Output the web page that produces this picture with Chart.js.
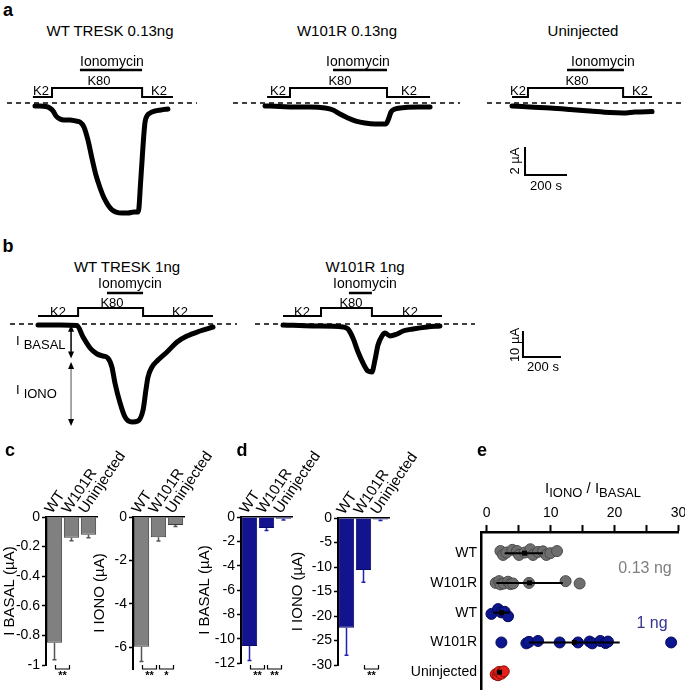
<!DOCTYPE html>
<html><head><meta charset="utf-8">
<script src="https://cdn.jsdelivr.net/npm/chart.js@4.4.1/dist/chart.umd.min.js"></script>
<style>
html,body{margin:0;padding:0;background:#fff}
body{width:685px;height:696px;position:relative;overflow:hidden;font-family:"Liberation Sans",Arial,Helvetica,sans-serif;color:#000}
canvas{position:absolute}
.t{position:absolute;white-space:nowrap;transform:translate(-50%,-50%);line-height:1}
</style></head><body>
<script>
// ================= DATA =================
// Panel a traces: time (s) and current (µA); protocol = [K2 start, K80 on, K80 off, K2 end, ionomycin on, ionomycin off]
const a1Time=[0,24,52,71,86,100,119,138,167,195,214,233,252,271,290,310,329,348,367,386,414,443,471,490,495,502,510,517,524,533,548,571,600,633];
const a1Curr=[-0.21,-0.21,-0.25,-0.36,-0.57,-0.93,-1.14,-1.21,-1.21,-1.29,-1.36,-1.71,-2.64,-3.93,-5.14,-6.07,-6.79,-7.29,-7.64,-7.79,-7.86,-7.86,-7.79,-7.79,-7.5,-5.86,-4.07,-2.5,-1.36,-0.93,-0.71,-0.57,-0.5,-0.43];
const a1Prot=[-10,81,510,657,214,510];
const a2Time=[0,71,143,214,286,324,357,395,433,476,524,576,590,600,619,667,729,786];
const a2Curr=[-0.21,-0.25,-0.29,-0.29,-0.36,-0.5,-0.79,-1.07,-1.29,-1.43,-1.5,-1.5,-1.07,-0.64,-0.43,-0.32,-0.29,-0.29];
const a2Prot=[10,119,581,786,324,581];
const a3Time=[0,86,181,276,371,467,529,586,667];
const a3Curr=[-0.21,-0.29,-0.36,-0.46,-0.57,-0.68,-0.71,-0.64,-0.61];
const a3Prot=[0,76,529,667,262,533];
// Panel b traces
const b1Time=[0,116,205,237,274,311,342,368,389,405,432,458,495,526,553,568,579,600,632,679,732,784,853,921];
const b1Curr=[-0.38,-0.38,-0.58,-5.0,-9.23,-11.54,-12.31,-13.08,-16.54,-22.69,-30.38,-35.77,-37.69,-37.31,-33.08,-25.38,-20.38,-16.54,-13.85,-10.77,-6.92,-4.62,-2.69,-1.15];
const b1Prot=[0,211,553,921,363,553];
const b1Basal=[-0.3,-13.3];
const b1Iono=[-14.6,-39.2];
const b2Time=[0,158,316,342,368,395,421,447,468,484,500,521,537,563,600,632,684,758,826];
const b2Curr=[-0.38,-0.77,-1.15,-1.92,-5.38,-10.77,-15.0,-18.08,-18.46,-13.85,-8.08,-4.62,-3.46,-4.62,-3.85,-2.69,-1.92,-1.15,-0.77];
const b2Prot=[0,200,468,837,347,468];
// Panels c, d: mean (µA) and error
const barCats=['WT','W101R','Uninjected'];
const cBasal=[-0.85,-0.14,-0.12];   const cBasalErr=[0.115,0.02,0.02];
const cIono=[-5.98,-0.93,-0.37];    const cIonoErr=[0.67,0.18,0.07];
const dBasal=[-10.6,-0.9,-0.15];    const dBasalErr=[1.2,0.2,0.1];
const dIono=[-22.4,-10.6,-0.3];     const dIonoErr=[5.6,2.5,0.2];
const cBasalSig=[[0,1,'**']];
const cIonoSig=[[0,1,'**'],[1,2,'*']];
const dBasalSig=[[0,1,'**'],[1,2,'**']];
const dIonoSig=[[1,2,'**']];
// Panel e: I_IONO / I_BASAL ratios (value, row jitter)
const eRows=['WT','W101R','WT','W101R','Uninjected'];
const eWT013=[2.14,2.55,3.07,4.0,4.74,5.05,5.94,6.82,7.24,8.02,8.8,9.32,9.95,10.99];
const eWT013Jit=[-0.07,0.06,-0.02,-0.11,-0.07,0.06,-0.02,-0.13,0.06,-0.04,-0.06,0.06,0,-0.07];
const eMut013=[1.41,1.93,2.14,2.66,3.33,3.7,4.11,6.61,12.34,14.53];
const eMut013Jit=[0,-0.06,0.05,0.02,-0.04,0.04,0.02,0,-0.06,0.02];
const eWT1=[0.73,1.77,2.29,2.81,3.33];
const eWT1Jit=[0.04,-0.12,-0.01,-0.03,0.12];
const eMut1=[2.29,6.2,6.61,8.02,11.41,14.27,16.09,16.51,17.76,18.59,18.96,28.85];
const eMut1Jit=[0,0.03,-0.02,-0.05,0,0,-0.03,0.03,-0.05,0.02,-0.03,0];
const eUnin=[1.4,1.77,1.93,2.29,2.66];
const eUninJit=[0.07,0.1,-0.01,0.05,-0.03];
const eMean=[5.9,6.7,2.3,13.7,2.0];
const eSdLo=[2.8,1.5,1.0,6.6,1.6];
const eSdHi=[8.8,11.9,3.6,20.8,2.4];

// ================= HELPERS =================
Chart.defaults.font.family='"Liberation Sans", Arial, sans-serif';
Chart.defaults.color='#000';
Chart.defaults.animation=false;
const FONT='"Liberation Sans", Arial, sans-serif';

function mkCanvas(r){const c=document.createElement('canvas');c.width=r.w;c.height=r.h;
 Object.assign(c.style,{left:r.l+'px',top:r.t+'px',width:r.w+'px',height:r.h+'px'});document.body.appendChild(c);return c;}
function txt(html,x,y,size,st){const d=document.createElement('div');d.className='t';
 d.style.left=x+'px';d.style.top=y+'px';d.style.fontSize=size+'px';if(st)Object.assign(d.style,st);d.innerHTML=html;document.body.appendChild(d);return d;}

const tracePlugin={id:'trace',
 beforeDatasetsDraw(chart,args,o){const ctx=chart.ctx,y0=chart.scales.y.getPixelForValue(0);
  ctx.save();ctx.strokeStyle='#000';ctx.lineWidth=1.6;ctx.setLineDash([5,4]);
  ctx.beginPath();ctx.moveTo(o.dash[0]-o.left,y0);ctx.lineTo(o.dash[1]-o.left,y0);ctx.stroke();ctx.restore();},
 afterDraw(chart,args,o){const ctx=chart.ctx,xs=chart.scales.x,ys=chart.scales.y;const X=v=>xs.getPixelForValue(v),Y=v=>ys.getPixelForValue(v);
  const y0=Y(0),p=o.prot,yl=y0-o.low,yh=y0-o.high;
  ctx.save();ctx.strokeStyle='#000';ctx.lineWidth=2;ctx.lineJoin='miter';
  ctx.beginPath();ctx.moveTo(X(p[0]),yl);ctx.lineTo(X(p[1]),yl);ctx.lineTo(X(p[1]),yh);ctx.lineTo(X(p[2]),yh);ctx.lineTo(X(p[2]),yl);ctx.lineTo(X(p[3]),yl);ctx.stroke();
  ctx.lineWidth=2.5;ctx.beginPath();ctx.moveTo(X(p[4]),y0-o.iono);ctx.lineTo(X(p[5]),y0-o.iono);ctx.stroke();
  if(o.bar){const b=o.bar;ctx.lineWidth=2;ctx.beginPath();ctx.moveTo(X(b.t),Y(b.i+b.di));ctx.lineTo(X(b.t),Y(b.i));ctx.lineTo(X(b.t+b.dt),Y(b.i));ctx.stroke();}
  if(o.arrows){o.arrows.forEach(a=>{const x=X(a.t),y1=Y(a.r[0]),y2=Y(a.r[1]);
    ctx.strokeStyle=a.col;ctx.lineWidth=1.5;ctx.beginPath();ctx.moveTo(x,y1+5);ctx.lineTo(x,y2-5);ctx.stroke();
    ctx.fillStyle='#000';ctx.beginPath();ctx.moveTo(x,y1);ctx.lineTo(x-3,y1+7);ctx.lineTo(x+3,y1+7);ctx.fill();
    ctx.beginPath();ctx.moveTo(x,y2);ctx.lineTo(x-3,y2-7);ctx.lineTo(x+3,y2-7);ctx.fill();});}
  ctx.restore();}};

function traceChart(r,x0,base,pxs,pxa,time,curr,prot,opt){
 const cv=mkCanvas(r);
 const xmin=(r.l-x0)/pxs,xmax=(r.l+r.w-x0)/pxs,ymax=(base-r.t)/pxa,ymin=-(r.t+r.h-base)/pxa;
 new Chart(cv,{type:'line',data:{datasets:[{data:time.map((t,i)=>({x:t,y:curr[i]})),borderColor:'#000',borderWidth:5,pointRadius:0,cubicInterpolationMode:'monotone',fill:false,borderCapStyle:'round'}]},
  options:{responsive:false,animation:false,events:[],layout:{padding:0},
   plugins:{legend:{display:false},tooltip:{enabled:false},trace:Object.assign({prot:prot,left:r.l},opt)},
   scales:{x:{type:'linear',display:false,min:xmin,max:xmax},y:{type:'linear',display:false,min:ymin,max:ymax}}},
  plugins:[tracePlugin]});
}

const errPlugin={id:'errbars',afterDatasetsDraw(chart,args,o){const meta=chart.getDatasetMeta(0),ys=chart.scales.y,ctx=chart.ctx,d=chart.data.datasets[0].data;
 ctx.save();ctx.strokeStyle=o.col;ctx.lineWidth=1.5;
 meta.data.forEach((b,i)=>{const y1=ys.getPixelForValue(d[i]),y2=ys.getPixelForValue(d[i]-o.errs[i]);
  ctx.beginPath();ctx.moveTo(b.x,y1);ctx.lineTo(b.x,y2);ctx.moveTo(b.x-2,y2);ctx.lineTo(b.x+2,y2);ctx.stroke();});ctx.restore();}};
const bracketPlugin={id:'brackets',afterDraw(chart,args,o){const xs=chart.scales.x,ctx=chart.ctx,yb=o.y-o.top;
 ctx.save();ctx.strokeStyle='#000';ctx.lineWidth=1.2;ctx.fillStyle='#000';ctx.font='bold 11px '+FONT;ctx.textAlign='center';ctx.textBaseline='top';
 o.list.forEach(s=>{const x1=xs.getPixelForValue(s[0])+1,x2=xs.getPixelForValue(s[1])-2;
  ctx.beginPath();ctx.moveTo(x1,yb);ctx.lineTo(x1,yb+4);ctx.lineTo(x2,yb+4);ctx.lineTo(x2,yb);ctx.stroke();ctx.fillText(s[2],(x1+x2)/2,yb+5);});ctx.restore();}};

function barChart(r,yW,xH,padR,padB,vals,errs,yMin,step,fill,border,errCol,sig,title){
 const cv=mkCanvas(r);
 new Chart(cv,{type:'bar',data:{labels:barCats,datasets:[{data:vals,backgroundColor:fill,borderColor:border,borderWidth:1,barPercentage:0.9,categoryPercentage:1}]},
  options:{responsive:false,animation:false,events:[],layout:{padding:{left:0,top:0,right:padR,bottom:padB}},
   plugins:{legend:{display:false},tooltip:{enabled:false},errbars:{errs:errs,col:errCol},brackets:{list:sig,y:665,top:r.t}},
   scales:{
    x:{position:'top',grid:{display:false,drawTicks:false},border:{display:true,color:'#000',width:1.5},
       ticks:{minRotation:56,maxRotation:56,autoSkip:false,font:{size:15},padding:0,labelOffset:9},
       afterFit(s){s.height=xH;s.paddingLeft=0;s.paddingRight=0;}},
    y:{min:yMin,max:0,grid:{display:true,drawOnChartArea:false,drawTicks:true,tickLength:4,color:'#000',tickWidth:1.5},border:{display:true,color:'#000',width:2},
       ticks:{stepSize:step,includeBounds:false,font:{size:14},padding:2,callback:v=>String(Math.round(v*100)/100)},
       title:{display:true,text:title,font:{size:15},padding:{top:1,bottom:0}},
       afterFit(s){s.width=yW;s.paddingTop=0;s.paddingBottom=0;}}}},
  plugins:[errPlugin,bracketPlugin]});
}

// ================= PANEL a =================
const A={low:6,high:15,iono:33};
traceChart({l:3,t:40,w:202,h:190},35,103,0.21,14,a1Time,a1Curr,a1Prot,Object.assign({dash:[7,197]},A));
traceChart({l:230,t:40,w:235,h:190},265,103,0.21,14,a2Time,a2Curr,a2Prot,Object.assign({dash:[233,460]},A));
traceChart({l:485,t:40,w:200,h:190},512,103,0.21,14,a3Time,a3Curr,a3Prot,Object.assign({dash:[487,685],bar:{t:62,i:-5.14,dt:200,di:2}},A));
// ================= PANEL b =================
const B={low:8,high:16,iono:31};
traceChart({l:5,t:285,w:240,h:150},38,324,0.19,2.6,b1Time,b1Curr,b1Prot,Object.assign({dash:[10,237],arrows:[{t:174,r:b1Basal,col:'#000'},{t:174,r:b1Iono,col:'#8a8a8a'}]},B));
traceChart({l:250,t:285,w:330,h:150},283,324,0.19,2.6,b2Time,b2Curr,b2Prot,Object.assign({dash:[255,475],bar:{t:1263,i:-12.69,dt:200,di:10}},B));

// ================= PANELS c, d =================
const GREY='#808080',GREYB='#3c3c3c',NAVY='#13138f',NAVYB='#0a0a6a';
barChart({l:0,t:430,w:137,h:266},46,87,40,31,cBasal,cBasalErr,-1,0.2,GREY,GREYB,'#555',cBasalSig,'I BASAL (µA)');
barChart({l:90,t:430,w:134,h:266},43,87,40,27,cIono,cIonoErr,-7,2,GREY,GREYB,'#555',cIonoSig,'I IONO (µA)');
barChart({l:195,t:430,w:137,h:266},46,87,40,33,dBasal,dBasalErr,-12,2,NAVY,NAVYB,'#2222b0',dBasalSig,'I BASAL (µA)');
barChart({l:288,t:430,w:141,h:266},50,88,40,31,dIono,dIonoErr,-30,5,NAVY,NAVYB,'#2222b0',dIonoSig,'I IONO (µA)');

// ================= PANEL e =================
const sdPlugin={id:'sd',afterDatasetsDraw(chart,args,o){const xs=chart.scales.x,ys=chart.scales.y,ctx=chart.ctx;
 ctx.save();ctx.strokeStyle='#000';ctx.fillStyle='#000';ctx.lineWidth=2;
 o.mean.forEach((m,i)=>{const y=ys.getPixelForValue(i+1);ctx.beginPath();ctx.moveTo(xs.getPixelForValue(o.lo[i]),y);ctx.lineTo(xs.getPixelForValue(o.hi[i]),y);ctx.stroke();
  const x=xs.getPixelForValue(m);ctx.fillRect(x-2.5,y-2.5,5,5);});ctx.restore();}};
function eds(vals,jit,row,fill,bord){return{data:vals.map((v,i)=>({x:v,y:row+jit[i]})),pointRadius:5.5,pointBackgroundColor:fill,pointBorderColor:bord,pointBorderWidth:1,showLine:false};}
const GP='#6e6e6e',GPB='#4a4a4a',BP='#0b168f',BPB='#06085a',RP='#e4221b',RPB='#8a0b07';
(function(){
 const r={l:400,t:470,w:285,h:226};const cv=mkCanvas(r);
 new Chart(cv,{type:'scatter',data:{datasets:[eds(eWT013,eWT013Jit,1,GP,GPB),eds(eMut013,eMut013Jit,2,GP,GPB),eds(eWT1,eWT1Jit,3,BP,BPB),eds(eMut1,eMut1Jit,4,BP,BPB),eds(eUnin,eUninJit,5,RP,RPB)]},
  options:{responsive:false,animation:false,events:[],layout:{padding:{left:0,top:0,right:6,bottom:0}},
   plugins:{legend:{display:false},tooltip:{enabled:false},sd:{mean:eMean,lo:eSdLo,hi:eSdHi}},
   scales:{
    x:{type:'linear',position:'top',min:-0.9,max:30,
       ticks:{stepSize:5,includeBounds:false,autoSkip:false,maxRotation:0,font:{size:14},padding:3,callback:v=>(v%10===0?String(v):'')},
       grid:{display:true,drawOnChartArea:false,drawTicks:true,tickLength:7,tickWidth:2,color:'#000'},border:{display:true,color:'#000',width:2.5},
       afterFit(s){s.height=62;s.paddingLeft=0;s.paddingRight=0;}},
    y:{type:'linear',reverse:true,min:0.29,max:5.58,
       ticks:{stepSize:1,includeBounds:false,autoSkip:false,font:{size:14},padding:4,callback:v=>eRows[v-1]||''},
       grid:{display:false,drawTicks:false},border:{display:true,color:'#000',width:2.5},
       afterFit(s){s.width=81;s.paddingTop=0;s.paddingBottom=0;}}}},
  plugins:[sdPlugin]});
})();

// ================= TEXT =================
const BOLD={fontWeight:'bold'};
txt('a',8,10,18,BOLD);txt('b',8,246,18,BOLD);txt('c',10,450,18,BOLD);txt('d',242,450,18,BOLD);txt('e',482,450,18,BOLD);
txt('WT TRESK 0.13ng',110,30,15);txt('W101R 0.13ng',347,30,15);txt('Uninjected',583,30,15);
txt('WT TRESK 1ng',127,266,15);txt('W101R 1ng',365,266,15);
[[112,61],[358,61],[603,61],[130,283],[365,283]].forEach(p=>txt('Ionomycin',p[0],p[1],14));
[[99,80],[340,80],[577,80],[112,302],[351,302]].forEach(p=>txt('K80',p[0],p[1],13));
[[41,90],[159,90],[278,90],[409,90],[518,90],[640,90],[58,311],[180,311],[302,311],[410,311]].forEach(p=>txt('K2',p[0],p[1],13));
txt('2 µA',514,161,13,{transform:'translate(-50%,-50%) rotate(-90deg)'});txt('200 s',546,185,13);
txt('10 µA',514,345,13,{transform:'translate(-50%,-50%) rotate(-90deg)'});txt('200 s',543,366,13);
txt('I<span style="position:relative;top:4px;margin-left:4px">BASAL</span>',16,340,13,{transform:'translate(0,-50%)'});
txt('I<span style="position:relative;top:4px;margin-left:4px">IONO</span>',16,389,13,{transform:'translate(0,-50%)'});
txt('I<span style="position:relative;top:4px;font-size:13px">IONO</span> / I<span style="position:relative;top:4px;font-size:13px">BASAL</span>',593,487,15);
txt('0.13 ng',645,568,16,{color:'#7f7f7f'});
txt('1 ng',652,623,16,{color:'#35358f'});
</script></body></html>
